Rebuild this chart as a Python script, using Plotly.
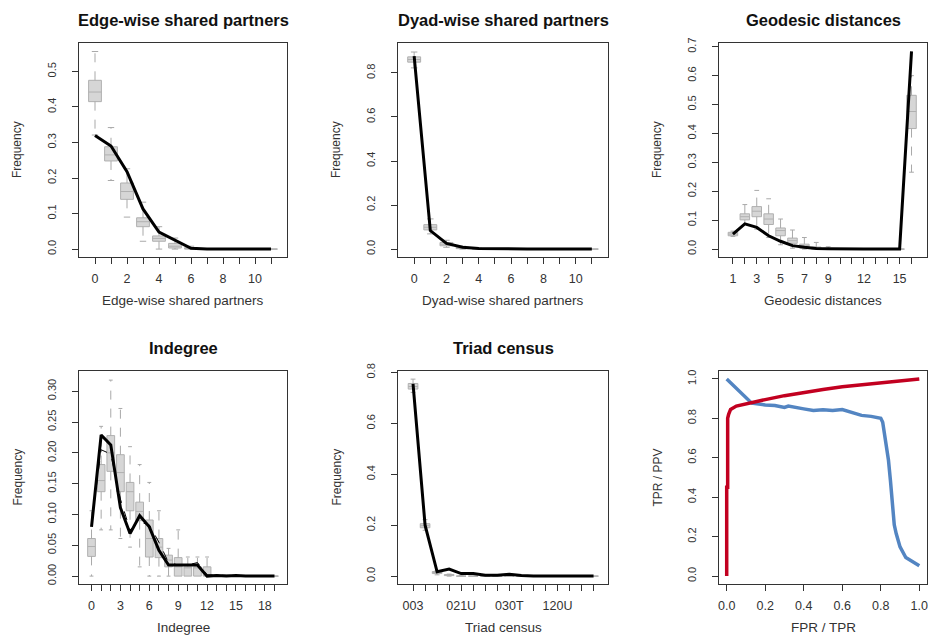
import plotly.graph_objects as go

W, H = 928, 635
FONT = "Liberation Sans"

# ---------------- data ----------------
# Edge-wise shared partners (0..11)
esp_x = list(range(0, 12))
esp_q1 = [0.415, 0.248, 0.140, 0.063, 0.022, 0.003, 0.0, 0, 0, 0, 0, 0]
esp_med = [0.442, 0.265, 0.162, 0.077, 0.030, 0.008, 0.001, 0, 0, 0, 0, 0]
esp_q3 = [0.475, 0.288, 0.186, 0.088, 0.037, 0.016, 0.004, 0, 0, 0, 0, 0]
esp_lo = [0.321, 0.193, 0.090, 0.022, 0.0, 0.0, 0.0, 0, 0, 0, 0, 0]
esp_hi = [0.556, 0.342, 0.226, 0.132, 0.063, 0.031, 0.008, 0.001, 0, 0, 0, 0]
esp_obs = [0.320, 0.290, 0.218, 0.113, 0.048, 0.024, 0.002, 0, 0, 0, 0, 0]

# Dyad-wise shared partners (0..11)
dsp_x = list(range(0, 12))
dsp_q1 = [0.849, 0.087, 0.015, 0.002, 0, 0, 0, 0, 0, 0, 0, 0]
dsp_med = [0.861, 0.099, 0.022, 0.005, 0.001, 0, 0, 0, 0, 0, 0, 0]
dsp_q3 = [0.873, 0.111, 0.030, 0.008, 0.002, 0, 0, 0, 0, 0, 0, 0]
dsp_lo = [0.823, 0.069, 0.008, 0.0, 0, 0, 0, 0, 0, 0, 0, 0]
dsp_hi = [0.895, 0.137, 0.040, 0.013, 0.004, 0.001, 0, 0, 0, 0, 0, 0]
dsp_obs = [0.876, 0.084, 0.026, 0.008, 0.003, 0.001, 0, 0, 0, 0, 0, 0]

# Geodesic distances (1..15, 16 = Inf)
geo_x = list(range(1, 17))
geo_q1 = [0.046, 0.101, 0.112, 0.085, 0.046, 0.020, 0.003, 0.0, 0.0, 0, 0, 0, 0, 0, 0, 0.417]
geo_med = [0.052, 0.112, 0.131, 0.104, 0.064, 0.029, 0.012, 0.003, 0.001, 0, 0, 0, 0, 0, 0, 0.476]
geo_q3 = [0.058, 0.122, 0.147, 0.122, 0.073, 0.038, 0.017, 0.007, 0.002, 0, 0, 0, 0, 0, 0, 0.532]
geo_lo = [0.044, 0.085, 0.069, 0.040, 0.015, 0.003, 0.0, 0, 0, 0, 0, 0, 0, 0, 0, 0.266]
geo_hi = [0.062, 0.154, 0.203, 0.174, 0.104, 0.066, 0.040, 0.023, 0.008, 0.002, 0, 0, 0, 0, 0, 0.600]
geo_obs = [0.052, 0.087, 0.075, 0.046, 0.027, 0.012, 0.006, 0.002, 0.001, 0, 0, 0, 0, 0, 0, 0.684]
geo_ticklabels = {1: "1", 3: "3", 5: "5", 7: "7", 9: "9", 12: "12", 15: "15"}

# Indegree (0..19)
ind_x = list(range(0, 20))
ind_q1 = [0.032, 0.137, 0.170, 0.137, 0.106, 0.090, 0.031, 0.030, 0.015, 0.0, 0.0, 0.0, 0.0, 0, 0, 0, 0, 0, 0, 0]
ind_med = [0.048, 0.155, 0.200, 0.168, 0.137, 0.105, 0.061, 0.047, 0.026, 0.015, 0.015, 0.015, 0.0, 0, 0, 0, 0, 0, 0, 0]
ind_q3 = [0.061, 0.181, 0.228, 0.197, 0.152, 0.120, 0.091, 0.061, 0.034, 0.030, 0.015, 0.015, 0.015, 0, 0, 0, 0, 0, 0, 0]
ind_lo = [0.0, 0.075, 0.075, 0.061, 0.047, 0.015, 0.0, 0.0, 0.0, 0, 0, 0, 0, 0, 0, 0, 0, 0, 0, 0]
ind_hi = [0.106, 0.243, 0.318, 0.272, 0.210, 0.181, 0.152, 0.106, 0.045, 0.075, 0.031, 0.031, 0.031, 0.002, 0.001, 0, 0, 0, 0, 0]
ind_obs = [0.080, 0.229, 0.213, 0.111, 0.069, 0.098, 0.080, 0.042, 0.018, 0.018, 0.018, 0.018, 0.0, 0.001, 0.0, 0.001, 0, 0, 0, 0]
ind_mean = [0.085, 0.205, 0.198, 0.125, 0.075, 0.088, 0.083, 0.055, 0.022, 0.018, 0.018, 0.022, 0.002, 0.002, 0.001, 0.001, 0, 0, 0, 0]

# Triad census (16 triad types)
tri_types = ["003", "012", "102", "021D", "021U", "021C", "111D", "111U",
             "030T", "030C", "201", "120D", "120U", "120C", "210", "300"]
tri_shown = ["003", "021U", "030T", "120U"]
tri_q1 = [0.735, 0.190, 0.010, 0.002, 0, 0, 0, 0, 0, 0, 0, 0, 0, 0, 0, 0]
tri_med = [0.745, 0.198, 0.014, 0.004, 0, 0, 0, 0, 0, 0, 0, 0, 0, 0, 0, 0]
tri_q3 = [0.757, 0.206, 0.018, 0.006, 0, 0, 0, 0, 0, 0, 0, 0, 0, 0, 0, 0]
tri_lo = [0.722, 0.180, 0.005, 0.0, 0, 0, 0, 0, 0, 0, 0, 0, 0, 0, 0, 0]
tri_hi = [0.774, 0.222, 0.022, 0.008, 0.002, 0, 0, 0, 0, 0, 0, 0, 0, 0, 0, 0]
tri_obs = [0.755, 0.200, 0.017, 0.028, 0.010, 0.010, 0.003, 0.003, 0.007, 0.002, 0, 0, 0, 0, 0, 0]

# ROC (FPR -> TPR) and PR (TPR -> PPV)
roc_fpr = [0.0, 0.0, 0.005, 0.005, 0.01, 0.02, 0.05, 0.1, 0.2, 0.3, 0.4, 0.5, 0.6, 0.7, 0.8, 0.9, 1.0]
roc_tpr = [0.0, 0.45, 0.45, 0.80, 0.82, 0.845, 0.862, 0.874, 0.895, 0.915, 0.932, 0.946, 0.960, 0.970, 0.980, 0.990, 1.0]
pr_tpr = [0.0, 0.13, 0.2, 0.25, 0.3, 0.32, 0.4, 0.45, 0.5, 0.55, 0.6, 0.65, 0.7, 0.75, 0.8,
          0.81, 0.82, 0.83, 0.84, 0.85, 0.86, 0.87, 0.88, 0.9, 0.93, 0.96, 1.0]
pr_ppv = [1.0, 0.877, 0.868, 0.865, 0.855, 0.862, 0.848, 0.840, 0.843, 0.840, 0.845, 0.830, 0.815, 0.810, 0.800,
          0.780, 0.720, 0.650, 0.587, 0.486, 0.350, 0.260, 0.216, 0.148, 0.094, 0.075, 0.052]

# ---------------- layout helpers ----------------
TEXT = "#333333"
FRAME = "#333333"
BOX_FILL = "#d6d6d6"
BOX_LINE = "#b0b0b0"
WHISK = "#a9a9a9"

panels = [
    # (left, right, top, bottom) in pixels
    (79, 287, 43, 257),
    (398, 608, 43, 257),
    (719, 927, 43, 257),
    (79, 287, 371, 584),
    (398, 608, 371, 584),
    (719, 927, 371, 584),
]

fig = go.Figure()
layout = dict(width=W, height=H, margin=dict(l=0, r=0, t=0, b=0, pad=0, autoexpand=False),
              paper_bgcolor="white", plot_bgcolor="white", showlegend=False,
              font=dict(family=FONT, color=TEXT))


def ax_name(i, kind):
    return kind + ("" if i == 1 else str(i))


def set_axes(i, xr, xtv, xtt, yr, ytv, ytt):
    l, r, t, b = panels[i - 1]
    common = dict(showline=True, mirror=True, linecolor=FRAME, linewidth=1.2,
                  ticks="outside", ticklen=6, tickwidth=1, tickcolor=FRAME,
                  showgrid=False, zeroline=False, tickmode="array", fixedrange=True,
                  automargin=False, ticklabeloverflow="allow")
    layout[ax_name(i, "xaxis")] = dict(
        common, domain=[l / W, r / W], range=xr, tickvals=xtv, ticktext=xtt,
        anchor=ax_name(i, "y"), tickfont=dict(size=12.5, color=TEXT), ticklabelstandoff=4)
    layout[ax_name(i, "yaxis")] = dict(
        common, domain=[1 - b / H, 1 - t / H], range=yr, tickvals=ytv, ticktext=ytt,
        anchor=ax_name(i, "x"), tickangle=-90, tickfont=dict(size=11, color=TEXT),
        ticklabelstandoff=12)


def add_boxes(i, xs, q1, med, q3, lo, hi):
    xa, ya = ax_name(i, "x"), ax_name(i, "y")
    fig.add_trace(go.Box(x=xs, q1=q1, median=med, q3=q3, lowerfence=q1, upperfence=q3,
                         width=0.8, whiskerwidth=0, fillcolor=BOX_FILL,
                         line=dict(color=BOX_LINE, width=1), boxpoints=False,
                         hoverinfo="skip", xaxis=xa, yaxis=ya))
    wx, wy, cx, cy = [], [], [], []
    for x, a, b_, c, d in zip(xs, lo, q1, q3, hi):
        if d > c:
            wx += [x, x, None]; wy += [c, d, None]
            cx += [x - 0.2, x + 0.2, None]; cy += [d, d, None]
        if a < b_:
            wx += [x, x, None]; wy += [b_, a, None]
            cx += [x - 0.2, x + 0.2, None]; cy += [a, a, None]
    fig.add_trace(go.Scatter(x=wx, y=wy, mode="lines", line=dict(color=WHISK, width=1, dash="dash"),
                             hoverinfo="skip", xaxis=xa, yaxis=ya))
    fig.add_trace(go.Scatter(x=cx, y=cy, mode="lines", line=dict(color=WHISK, width=1),
                             hoverinfo="skip", xaxis=xa, yaxis=ya))


def add_line(i, xs, ys, width=3, color="black", dash="solid"):
    fig.add_trace(go.Scatter(x=xs, y=ys, mode="lines", line=dict(color=color, width=width, dash=dash),
                             hoverinfo="skip", xaxis=ax_name(i, "x"), yaxis=ax_name(i, "y")))


def labels_every(xs, step, start):
    return [str(x) if (x - start) % step == 0 else "" for x in xs]


# Panel 1: ESP
add_boxes(1, esp_x, esp_q1, esp_med, esp_q3, esp_lo, esp_hi)
add_line(1, esp_x, esp_obs)
set_axes(1, [-1, 12], esp_x, labels_every(esp_x, 2, 0),
         [-0.0223, 0.58], [0, 0.1, 0.2, 0.3, 0.4, 0.5], ["0.0", "0.1", "0.2", "0.3", "0.4", "0.5"])

# Panel 2: DSP
add_boxes(2, dsp_x, dsp_q1, dsp_med, dsp_q3, dsp_lo, dsp_hi)
add_line(2, dsp_x, dsp_obs)
set_axes(2, [-1, 12], dsp_x, labels_every(dsp_x, 2, 0),
         [-0.036, 0.936], [0, 0.2, 0.4, 0.6, 0.8], ["0.0", "0.2", "0.4", "0.6", "0.8"])

# Panel 3: Geodesic distances
add_boxes(3, geo_x, geo_q1, geo_med, geo_q3, geo_lo, geo_hi)
add_line(3, geo_x, geo_obs)
set_axes(3, [-0.17, 17.3], geo_x, [geo_ticklabels.get(x, "") for x in geo_x],
         [-0.0274, 0.713], [0, 0.1, 0.2, 0.3, 0.4, 0.5, 0.6, 0.7],
         ["0.0", "0.1", "0.2", "0.3", "0.4", "0.5", "0.6", "0.7"])

# Panel 4: Indegree
add_boxes(4, ind_x, ind_q1, ind_med, ind_q3, ind_lo, ind_hi)
add_line(4, ind_x, ind_mean, width=1, dash="dash")
add_line(4, ind_x, ind_obs)
set_axes(4, [-1.3, 20.3], ind_x, labels_every(ind_x, 3, 0),
         [-0.0128, 0.3328], [0, 0.05, 0.1, 0.15, 0.2, 0.25, 0.3],
         ["0.00", "0.05", "0.10", "0.15", "0.20", "0.25", "0.30"])

# Panel 5: Triad census
tri_pos = list(range(1, len(tri_types) + 1))
add_boxes(5, tri_pos, tri_q1, tri_med, tri_q3, tri_lo, tri_hi)
add_line(5, tri_pos, tri_obs)
set_axes(5, [-0.25, 17.2], tri_pos, [t if t in tri_shown else "" for t in tri_types],
         [-0.031, 0.806], [0, 0.2, 0.4, 0.6, 0.8], ["0.0", "0.2", "0.4", "0.6", "0.8"])

# Panel 6: ROC / PR
add_line(6, pr_tpr, pr_ppv, width=3.5, color="#5385c2")
add_line(6, roc_fpr, roc_tpr, width=3.5, color="#c20020")
set_axes(6, [-0.04, 1.04], [0, 0.2, 0.4, 0.6, 0.8, 1.0], ["0.0", "0.2", "0.4", "0.6", "0.8", "1.0"],
         [-0.04, 1.04], [0, 0.2, 0.4, 0.6, 0.8, 1.0], ["0.0", "0.2", "0.4", "0.6", "0.8", "1.0"])

# ---------------- titles & axis labels ----------------
titles = ["Edge-wise shared partners", "Dyad-wise shared partners", "Geodesic distances",
          "Indegree", "Triad census", ""]
xlabels = ["Edge-wise shared partners", "Dyad-wise shared partners", "Geodesic distances",
           "Indegree", "Triad census", "FPR / TPR"]
ylabels = ["Frequency"] * 5 + ["TPR / PPV"]

ann = []
for k, (l, r, t, b) in enumerate(panels):
    cx = (l + r) / 2 / W
    if titles[k]:
        ann.append(dict(text="<b>" + titles[k] + "</b>", x=cx, y=1 - (t - 23) / H, xref="paper", yref="paper",
                        showarrow=False, xanchor="center", yanchor="middle",
                        font=dict(size=16.5, color="#111111", family=FONT)))
    ann.append(dict(text=xlabels[k], x=cx, y=1 - (b + 43) / H, xref="paper", yref="paper",
                    showarrow=False, xanchor="center", yanchor="middle",
                    font=dict(size=13.5, color=TEXT, family=FONT)))
    ann.append(dict(text=ylabels[k], x=(l - 62) / W, y=1 - (t + b) / 2 / H, xref="paper", yref="paper",
                    showarrow=False, xanchor="center", yanchor="middle", textangle=-90,
                    font=dict(size=12, color=TEXT, family=FONT)))
layout["annotations"] = ann

fig.update_layout(**layout)
fig.write_html("out.html", config={"displayModeBar": False},
               post_script="document.body.style.margin='0';document.body.style.overflow='hidden';")
